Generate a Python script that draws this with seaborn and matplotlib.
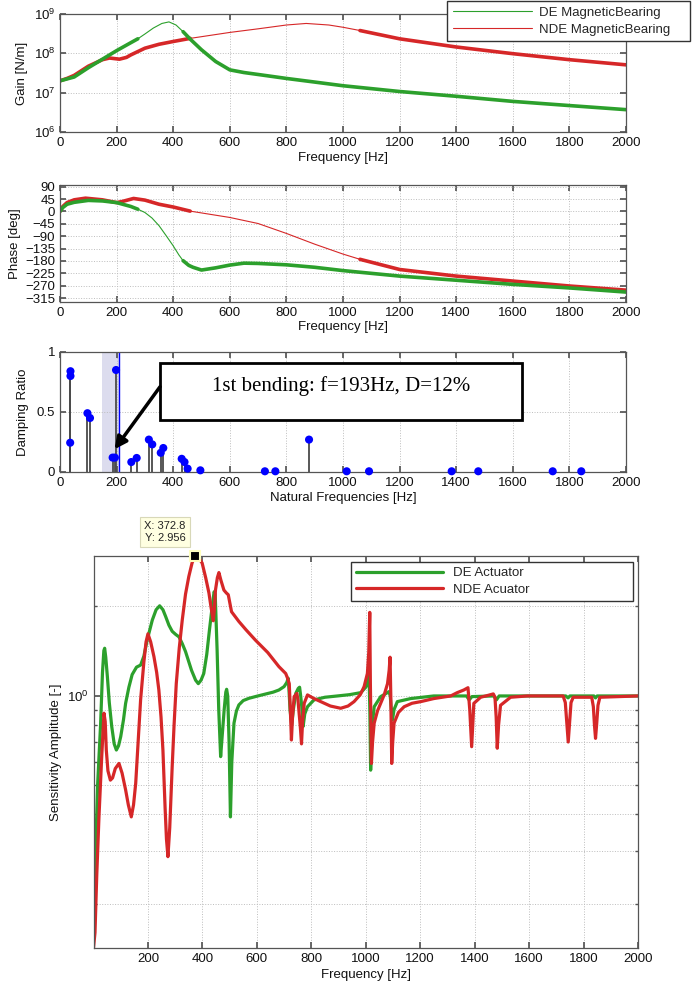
import numpy as np
import matplotlib
matplotlib.use("Agg")
import matplotlib.pyplot as plt
import seaborn as sns
from matplotlib.ticker import FixedLocator, NullLocator, NullFormatter, LogFormatterSciNotation
from matplotlib.patches import Rectangle
from matplotlib.lines import Line2D

# ---------------- data ----------------
# Panel 1: gain [N/m]
gain_f_de = [0, 50, 100, 150, 200, 250, 275, 300, 330, 360, 385, 410, 435, 460, 500, 550,
             600, 650, 700, 800, 900, 1000, 1200, 1400, 1600, 1800, 2000]
gain_de = [2.0e7, 2.5e7, 4.3e7, 7.1e7, 1.17e8, 1.86e8, 2.34e8, 3.1e8, 4.4e8, 5.75e8, 6.3e8,
           5.25e8, 3.55e8, 2.3e8, 1.23e8, 6.2e7, 3.8e7, 3.25e7, 2.9e7, 2.3e7, 1.86e7, 1.5e7,
           1.07e7, 8.1e6, 6.0e6, 4.7e6, 3.7e6]
gain_f_nde = [0, 25, 50, 100, 150, 175, 210, 235, 250, 300, 350, 400, 460, 600, 700, 800, 870,
              950, 1000, 1060, 1200, 1400, 1600, 1800, 2000]
gain_nde = [2.0e7, 2.3e7, 2.75e7, 4.7e7, 6.9e7, 7.6e7, 7.1e7, 7.9e7, 9.1e7, 1.35e8, 1.7e8,
            2.0e8, 2.4e8, 3.4e8, 4.2e8, 5.25e8, 5.75e8, 5.25e8, 4.6e8, 3.8e8, 2.34e8, 1.45e8,
            9.8e7, 6.9e7, 5.1e7]

# Panel 2: phase [deg]
phase_f_de = [0, 10, 25, 50, 100, 150, 200, 250, 275, 300, 325, 350, 375, 400, 420, 435, 455,
              470, 500, 550, 600, 650, 700, 800, 900, 1000, 1200, 1400, 1600, 1800, 2000]
phase_de = [0, 14, 26, 33, 40, 38, 32, 18, 8, -4, -24, -52, -88, -125, -158, -179, -196,
            -203, -213, -205, -195, -188, -189, -194, -203, -215, -235, -250, -265, -278, -293]
phase_f_nde = [0, 10, 25, 50, 90, 150, 200, 220, 260, 300, 350, 400, 460, 600, 700, 800, 900,
               1000, 1060, 1200, 1400, 1600, 1800, 2000]
phase_nde = [0, 18, 32, 42, 48, 42, 32, 36, 47, 41, 26, 16, 1, -22, -44, -80, -119, -155,
             -174, -211, -235, -253, -271, -286]

# Panel 3: natural frequencies / damping ratios
nat_freq = [37, 37, 36, 97, 106, 186, 194, 198, 252, 271, 314, 326, 356, 365, 430, 440, 451,
            496, 724, 761, 880, 1013, 1092, 1384, 1478, 1741, 1842]
damping = [0.84, 0.80, 0.244, 0.49, 0.45, 0.12, 0.12, 0.85, 0.083, 0.117, 0.27, 0.23, 0.16,
           0.20, 0.11, 0.083, 0.028, 0.014, 0.006, 0.006, 0.27, 0.006, 0.006, 0.006, 0.006,
           0.006, 0.006]
bending_freq, bending_damp = 193, 0.12
span_lo, span_hi = 147, 210

# Panel 4: sensitivity amplitude [-]
sens_f_de = [0, 8, 15, 26, 33, 38, 41, 45, 51, 58, 67, 76, 84, 92, 100, 110, 118, 130, 142,
             158, 173, 185, 197, 216, 230, 243, 255, 265, 277, 289, 302, 314, 326, 338, 360,
             375, 385, 395, 405, 416, 426, 436, 443, 447, 454, 460, 467, 472, 480, 486, 489,
             493, 498, 503, 508, 516, 525, 534, 550, 571, 600, 632, 660, 681, 700, 710, 715,
             718, 722, 728, 734, 743, 752, 757, 761, 765, 770, 776, 786, 810, 850, 896, 940,
             982, 1000, 1006, 1012, 1015, 1018, 1024, 1031, 1055, 1075, 1085, 1090, 1094, 1098,
             1104, 1116, 1165, 1250, 1312, 1370, 1380, 1390, 1470, 1480, 1490, 1735, 1743,
             1750, 1838, 1844, 1850, 2000]
sens_de = [0.16, 0.3, 0.5, 0.8, 1.2, 1.42, 1.447, 1.35, 1.16, 0.95, 0.789, 0.69, 0.658, 0.68,
           0.73, 0.83, 0.945, 1.07, 1.18, 1.25, 1.27, 1.36, 1.54, 1.80, 1.95, 2.01, 1.95, 1.85,
           1.73, 1.65, 1.61, 1.58, 1.50, 1.41, 1.22, 1.13, 1.10, 1.13, 1.19, 1.38, 1.67, 2.0,
           2.24, 2.2, 1.43, 0.9, 0.625, 0.72, 0.9, 1.03, 1.053, 1.0, 0.7, 0.392, 0.6, 0.81,
           0.89, 0.933, 0.965, 0.982, 0.998, 1.015, 1.03, 1.047, 1.075, 1.11, 1.147, 1.05,
           0.897, 0.80, 0.9, 1.02, 1.06, 1.07, 1.0, 0.92, 0.79, 0.87, 0.92, 0.97, 0.99, 1.0,
           1.01, 1.026, 1.07, 1.10, 1.19, 0.9, 0.563, 0.8, 0.92, 0.995, 1.02, 1.034, 1.0, 0.9,
           0.83, 0.9, 0.957, 0.98, 1.0, 1.0, 1.0, 0.97, 0.995, 1.0, 0.97, 1.0, 1.0, 0.985, 1.0,
           1.0, 0.985, 1.0, 1.0]
sens_f_nde = [0, 5.5, 12, 20, 30, 38.5, 43, 47, 53, 62, 70, 80, 93.6, 105, 118, 128, 138.8,
              147, 155, 163, 173, 185, 193, 200, 210, 222, 232, 240, 248, 255, 263, 268, 273.4,
              280, 289, 296, 304, 315, 326, 338, 350, 362, 372.8, 385, 399, 412, 424, 432, 440,
              444, 448, 455, 460.6, 468, 479, 488, 495, 501, 507, 520, 534, 560, 595, 640, 681,
              706, 714, 719, 723, 727, 731, 737, 747, 751, 755, 760, 764, 768, 774, 786, 810,
              835, 870, 908, 935, 957, 980, 994, 1006, 1011, 1014.7, 1017, 1020.8, 1025, 1031,
              1043, 1055, 1068, 1080, 1086, 1089.3, 1092, 1095.4, 1099, 1104, 1120, 1141, 1170,
              1202, 1250, 1312, 1336, 1360, 1375.5, 1382, 1389, 1393, 1397, 1422, 1450, 1468.5,
              1474.6, 1479, 1483, 1488, 1495, 1532, 1593, 1725, 1733, 1738, 1743.7, 1749, 1754,
              1762, 1830, 1836, 1840, 1844, 1848, 1853, 1860, 2000]
sens_nde = [0.142, 0.16, 0.25, 0.39, 0.62, 0.875, 0.82, 0.658, 0.56, 0.521, 0.53, 0.57, 0.593,
            0.55, 0.483, 0.43, 0.392, 0.43, 0.508, 0.68, 0.97, 1.3, 1.52, 1.618, 1.52, 1.356,
            1.2, 1.048, 0.85, 0.658, 0.42, 0.33, 0.288, 0.36, 0.578, 0.8, 1.10, 1.45, 1.80, 2.2,
            2.52, 2.8, 2.956, 2.92, 2.80, 2.5, 2.22, 1.98, 1.79, 1.95, 2.27, 2.5, 2.60, 2.45,
            2.27, 2.22, 2.19, 2.05, 1.92, 1.85, 1.78, 1.67, 1.54, 1.40, 1.255, 1.19, 1.14, 1.10,
            0.9, 0.711, 0.85, 0.995, 1.02, 0.97, 0.88, 0.78, 0.69, 0.82, 0.945, 1.008, 0.98,
            0.957, 0.925, 0.909, 0.925, 0.957, 1.01, 1.075, 1.19, 1.4, 1.91, 1.1, 0.593, 0.7,
            0.81, 0.89, 0.945, 1.01, 1.10, 1.22, 1.35, 1.0, 0.593, 0.7, 0.81, 0.88, 0.92, 0.945,
            0.957, 0.98, 1.0, 1.026, 1.047, 1.066, 0.9, 0.675, 0.8, 0.944, 0.99, 1.005, 1.016,
            0.99, 0.85, 0.667, 0.8, 0.93, 0.99, 1.0, 1.0, 0.95, 0.82, 0.70, 0.82, 0.95, 0.99,
            0.99, 0.92, 0.8, 0.72, 0.8, 0.93, 0.99, 1.0]
peak_f, peak_s = 372.8, 2.956

freq_ticks = list(range(0, 2001, 200))

# ---------------- style ----------------
sns.set_theme(style="ticks")
plt.rcParams['font.family'] = ['Liberation Sans', 'DejaVu Sans']
plt.rcParams.update({
    'axes.edgecolor': '#555555', 'axes.linewidth': 0.9,
    'xtick.direction': 'in', 'ytick.direction': 'in',
    'xtick.color': '#555555', 'ytick.color': '#555555',
    'xtick.labelcolor': '#111111', 'ytick.labelcolor': '#111111',
    'xtick.major.size': 4, 'ytick.major.size': 4,
    'xtick.minor.size': 2.5, 'ytick.minor.size': 2.5,
    'xtick.labelsize': 9.5, 'ytick.labelsize': 9.5,
    'axes.labelsize': 9.5, 'axes.labelcolor': '#111111',
    'legend.fontsize': 9.5,
})
GREEN = '#2ca02c'
RED = '#d62728'
GRID = dict(linestyle=':', color='#bdbdbd', linewidth=0.7)
THICK, THIN = 2.6, 0.8

fig = plt.figure(figsize=(6.99, 9.89), dpi=100)
W, H = 699, 989


def add_ax(l, t, r, b):
    return fig.add_axes([l / W, 1 - b / H, (r - l) / W, (b - t) / H])


def matlab(ax):
    for s in ax.spines.values():
        s.set_visible(True)
        s.set_color('#555555')
    ax.tick_params(which='both', direction='in', top=True, right=True)
    ax.set_axisbelow(True)


def seg_plot(ax, f, v, lo, hi, color, label):
    f = np.asarray(f, float)
    v = np.asarray(v, float)
    a = f <= lo
    m = (f >= lo) & (f <= hi)
    b = f >= hi
    sns.lineplot(x=f[a], y=v[a], ax=ax, color=color, linewidth=THICK, sort=False,
                 estimator=None, legend=False)
    sns.lineplot(x=f[m], y=v[m], ax=ax, color=color, linewidth=THIN, sort=False,
                 estimator=None, legend=False, label=label)
    sns.lineplot(x=f[b], y=v[b], ax=ax, color=color, linewidth=THICK, sort=False,
                 estimator=None, legend=False)


# ---------------- panel 1: gain ----------------
ax1 = add_ax(60, 14, 626, 132)
matlab(ax1)
ax1.set_yscale('log')
seg_plot(ax1, gain_f_nde, gain_nde, 460, 1060, RED, 'NDE MagneticBearing')
seg_plot(ax1, gain_f_de, gain_de, 275, 435, GREEN, 'DE MagneticBearing')
ax1.set_xlim(0, 2000)
ax1.set_ylim(1e6, 1e9)
ax1.set_xticks(freq_ticks)
ax1.yaxis.set_major_locator(FixedLocator([1e6, 1e7, 1e8, 1e9]))
ax1.yaxis.set_major_formatter(LogFormatterSciNotation())
ax1.yaxis.set_minor_locator(NullLocator())
ax1.grid(True, which='major', **GRID)
ax1.set_xlabel('Frequency [Hz]', labelpad=2)
ax1.set_ylabel('Gain [N/m]')
ax1.yaxis.set_label_coords(-0.056, 0.5)
leg_handles = [Line2D([], [], color=GREEN, lw=THIN), Line2D([], [], color=RED, lw=THIN)]
fig.legend(leg_handles, ['DE MagneticBearing', 'NDE MagneticBearing'], loc='upper left',
           bbox_to_anchor=(447 / W, 1 - 44 / H, 243 / W, 43 / H), mode='expand',
           frameon=True, fancybox=False, edgecolor='#333333', framealpha=1,
           handlelength=6.0, handletextpad=0.55, borderpad=0.42, labelspacing=0.35,
           borderaxespad=0)

# ---------------- panel 2: phase ----------------
ax2 = add_ax(60, 184.7, 626, 301.7)
matlab(ax2)
seg_plot(ax2, phase_f_nde, phase_nde, 460, 1060, RED, None)
seg_plot(ax2, phase_f_de, phase_de, 275, 435, GREEN, None)
ax2.set_xlim(0, 2000)
ax2.set_ylim(-328, 97)
ax2.set_xticks(freq_ticks)
ax2.set_yticks(list(range(90, -316, -45)))
ax2.grid(True, which='major', **GRID)
ax2.set_xlabel('Frequency [Hz]', labelpad=2)
ax2.set_ylabel('Phase [deg]')
ax2.yaxis.set_label_coords(-0.069, 0.5)

# ---------------- panel 3: damping ----------------
ax3 = add_ax(60, 352, 626, 472)
matlab(ax3)
ax3.axvspan(span_lo, span_hi, color='#dcdcee', zorder=0.5, lw=0)
ax3.axvline(span_hi, color='#0000ff', lw=1.0, zorder=1)
ax3.vlines(nat_freq, 0, damping, color='#4a4a4a', lw=1.3, zorder=2)
sns.scatterplot(x=nat_freq, y=damping, ax=ax3, color='#0000ff', s=34, edgecolor='none',
                zorder=3, clip_on=False, legend=False)
ax3.set_xlim(0, 2000)
ax3.set_ylim(0, 1)
ax3.set_xticks(freq_ticks)
ax3.set_yticks([0, 0.5, 1])
ax3.set_yticklabels(['0', '0.5', '1'])
ax3.grid(True, which='major', **GRID)
ax3.set_xlabel('Natural Frequencies [Hz]', labelpad=2)
ax3.set_ylabel('Damping Ratio')
ax3.yaxis.set_label_coords(-0.054, 0.5)
box_l, box_b, box_w, box_h = 0.1767, 0.43, 0.639, 0.48
ax3.add_patch(Rectangle((box_l, box_b), box_w, box_h, transform=ax3.transAxes,
                        facecolor='white', edgecolor='black', lw=2.0, zorder=5))
ax3.text(box_l + box_w / 2, 0.72, '1st bending: f=193Hz, D=12%', transform=ax3.transAxes,
         ha='center', va='center', fontsize=15, family=['Liberation Serif', 'DejaVu Serif'],
         color='black', zorder=6)
ax3.annotate('', xy=(bending_freq, bending_damp + 0.07), xycoords='data',
             xytext=(box_l, 0.71), textcoords='axes fraction',
             arrowprops=dict(arrowstyle='-|>', lw=2.5, color='black', mutation_scale=18,
                             shrinkA=0, shrinkB=0), zorder=6)

# ---------------- panel 4: sensitivity ----------------
ax4 = add_ax(93.5, 556, 638, 948)
matlab(ax4)
ax4.set_yscale('log')
sns.lineplot(x=sens_f_de, y=sens_de, ax=ax4, color=GREEN, linewidth=2.3, sort=False,
             estimator=None, legend=False, label='DE Actuator')
sns.lineplot(x=sens_f_nde, y=sens_nde, ax=ax4, color=RED, linewidth=2.3, sort=False,
             estimator=None, legend=False, label='NDE Acuator')
ax4.set_xlim(0, 2000)
ax4.set_ylim(0.142, 2.956)
ax4.set_xticks(freq_ticks[1:])
ax4.yaxis.set_major_locator(FixedLocator([1]))
ax4.yaxis.set_major_formatter(LogFormatterSciNotation())
ax4.yaxis.set_minor_locator(FixedLocator([0.2, 0.3, 0.4, 0.5, 0.6, 0.7, 0.8, 0.9, 2]))
ax4.yaxis.set_minor_formatter(NullFormatter())
ax4.grid(True, which='major', **GRID)
ax4.grid(True, which='minor', axis='y', **GRID)
ax4.set_xlabel('Frequency [Hz]', labelpad=3)
ax4.set_ylabel('Sensitivity Amplitude [-]')
ax4.yaxis.set_label_coords(-0.058, 0.5)
ax4.legend(loc='upper left', bbox_to_anchor=(0.473, 0.88, 0.518, 0.105), mode='expand',
           frameon=True, fancybox=False, edgecolor='#333333', framealpha=1,
           handlelength=6.6, handletextpad=0.75, borderpad=0.4, labelspacing=0.3,
           borderaxespad=0)
ax4.plot([peak_f], [peak_s], marker='s', ms=7, mfc='black', mec='#ffffc0', mew=1.5,
         clip_on=False, zorder=10, ls='none')
ax4.annotate(f'X: {peak_f}\nY: {peak_s}', xy=(peak_f, peak_s), xycoords='data',
             xytext=(-30, 24), textcoords='offset pixels', ha='center', va='center',
             fontsize=8, color='#222222', linespacing=1.25,
             bbox=dict(boxstyle='square,pad=0.4', fc='#ffffe1', ec='#d8d8b8', lw=0.8),
             annotation_clip=False, zorder=11)

fig.savefig('out.png', dpi=100)
